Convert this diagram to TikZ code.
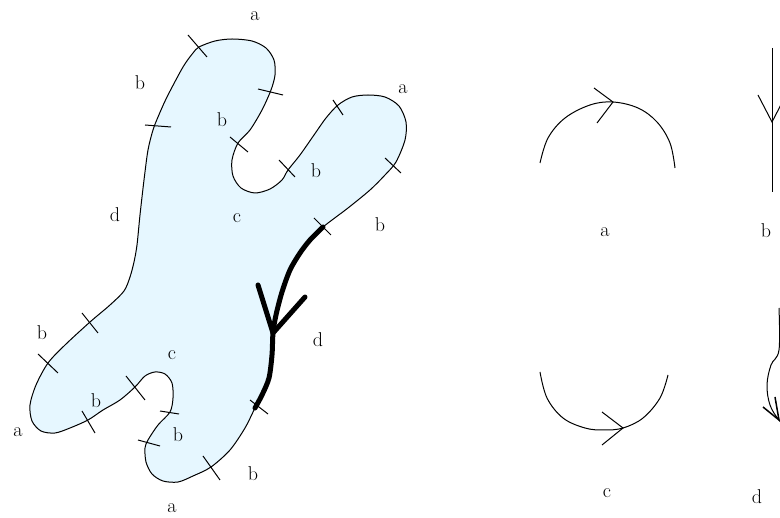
\documentclass[tikz,border=0pt]{standalone}
\begin{document}
\begin{tikzpicture}[x=1pt,y=-1pt,
  outline/.style={draw=black,line width=1pt,line join=round},
  tickmark/.style={draw=black,line width=1pt},
  heavy/.style={draw=black,line width=5pt,line cap=round,line join=round},
  thinline/.style={draw=black,line width=1pt},
  lbl/.style={font=\fontsize{20}{22}\selectfont,inner sep=0pt}]
\definecolor{blobfill}{RGB}{230,247,255}
\useasboundingbox (0,0) rectangle (780,518);
\clip (0,0) rectangle (780,518);
% blob
\draw[outline,fill=blobfill] plot[smooth cycle,tension=0.5] coordinates {
(199,47) (215,41) (232,39) (252,41) (266,48) (274,60) (275,75) (271,90)
(262,110) (250,130) (238,143) (232,160) (233,176) (241,188) (255,193)
(270,189) (282,180) (288,170) (300,155) (314,135) (326,118) (338,105)
(352,97) (368,95) (385,97) (399,106) (406,122) (405,140) (396,162)
(385,175) (370,190) (348,208) (323,227) (310,240) (300,253) (290,270)
(282,292) (276,315) (273,333) (272,355) (269,378) (262,395) (255,408)
(245,428) (230,450) (211,467) (193,476) (178,482) (163,481) (152,474)
(146,462) (145,448) (148,440) (158,425) (170,412) (173,398) (172,383)
(165,374) (155,372) (145,376) (135,387) (120,400) (103,410) (88,420)
(70,428) (55,433) (41,431) (32,421) (30,405) (36,385) (48,363) (65,345)
(90,322) (110,305) (124,291) (130,277) (134,262) (137,245) (140,215)
(144,180) (148,150) (153,130) (158,117) (167,97) (183,67) (193,53)};
% thick d edge with arrow
\draw[heavy] plot[smooth,tension=0.5] coordinates {
(323,227) (310,240) (300,253) (290,270) (282,292) (276,315) (273,333)
(272,355) (269,378) (262,395) (255,408)};
\draw[heavy] (258,285) -- (273,333) -- (305,297);
% ticks
\draw[tickmark] (188,35) -- (207,57);
\draw[tickmark] (258,89) -- (283,95);
\draw[tickmark] (230,137) -- (248,152);
\draw[tickmark] (279,160) -- (295,177);
\draw[tickmark] (333,100) -- (343,115);
\draw[tickmark] (385,158) -- (401,173);
\draw[tickmark] (314,218) -- (331,235);
\draw[tickmark] (250,400) -- (268,414);
\draw[tickmark] (203,456) -- (220,480);
\draw[tickmark] (138,440) -- (160,446);
\draw[tickmark] (160,411) -- (179,414);
\draw[tickmark] (126,376) -- (145,400);
\draw[tickmark] (82,411) -- (95,433);
\draw[tickmark] (38,354) -- (58,373);
\draw[tickmark] (82,313) -- (98,333);
\draw[tickmark] (145,125) -- (171,127);
% labels on blob
\node[lbl] (la1) at (255,16) {a};
\node[lbl] (lb1) at (140,83) {b};
\node[lbl] (lb2) at (222,120) {b};
\node[lbl] (la2) at (403,89) {a};
\node[lbl] (lb3) at (316,171) {b};
\node[lbl] (ld1) at (115,215) {d};
\node[lbl] (lc1) at (237,218) {c};
\node[lbl] (lb4) at (380,225) {b};
\node[lbl] (ld2) at (318,340) {d};
\node[lbl] (lb5) at (42,333) {b};
\node[lbl] (lc2) at (172,355) {c};
\node[lbl] (lb6) at (96,401) {b};
\node[lbl] (la3) at (18,432) {a};
\node[lbl] (lb7) at (178,435) {b};
\node[lbl] (lb8) at (253,474) {b};
\node[lbl] (la4) at (172,508) {a};
% legend a
\draw[thinline] plot[smooth,tension=0.6] coordinates {(540,163) (548,138) (565,118) (590,105) (613,102) (638,108) (657,122) (670,143) (675,168)};
\draw[thinline] (594,88) -- (613,102) -- (597,123);
\node[lbl] (lga) at (605,232) {a};
% legend b
\draw[thinline] (772,48) -- (772,192);
\draw[thinline] (758,95) -- (772,122) -- (786,95);
\node[lbl] (lgb) at (766,231) {b};
% legend c
\draw[thinline] plot[smooth,tension=0.6] coordinates {(540,372) (547,398) (563,418) (585,428) (604,430) (623,428) (643,418) (660,398) (668,375)};
\draw[thinline] (602,412) -- (623,428) -- (602,445);
\node[lbl] (lgc) at (607,493) {c};
% legend d
\draw[thinline] plot[smooth,tension=0.6] coordinates {(779,308) (779,350) (771,365) (767,385) (770,405) (779,420) (790,430)};
\draw[thinline,line width=1.5pt] (763,407) -- (779,420) -- (775,397);
\node[lbl] (lgd) at (757,497) {d};
\end{tikzpicture}
\end{document}
